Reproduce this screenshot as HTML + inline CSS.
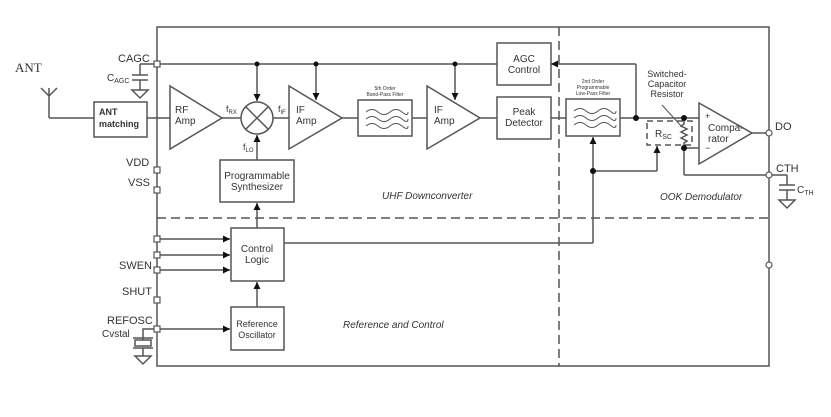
<!DOCTYPE html>
<html><head><meta charset="utf-8"><style>
html,body{margin:0;padding:0;background:#fff;width:831px;height:417px;overflow:hidden}
svg{display:block}
text{font-family:"Liberation Sans",sans-serif;fill:#333}
</style></head><body>
<svg width="831" height="417" viewBox="0 0 831 417" xmlns="http://www.w3.org/2000/svg">
<defs>
<marker id="a" viewBox="0 0 10 10" refX="10" refY="5" markerWidth="7" markerHeight="7" orient="auto" markerUnits="userSpaceOnUse"><path d="M0,0L10,5L0,10z" fill="#111"/></marker>
</defs>
<g stroke="#555" stroke-width="1.5" fill="none">
<rect x="157" y="27" width="612" height="339"/>
<line x1="157" y1="218" x2="769" y2="218" stroke-dasharray="9,5"/>
<line x1="559" y1="27" x2="559" y2="366" stroke-dasharray="9,5"/>
<line x1="157" y1="64" x2="497" y2="64"/>
<line x1="257" y1="64" x2="257" y2="101" marker-end="url(#a)"/>
<line x1="316" y1="64" x2="316" y2="100" marker-end="url(#a)"/>
<line x1="455" y1="64" x2="455" y2="100" marker-end="url(#a)"/>
<line x1="157" y1="64" x2="140" y2="64"/><line x1="140" y1="64" x2="140" y2="75"/>
<line x1="132" y1="75" x2="148" y2="75"/><line x1="132" y1="80" x2="148" y2="80"/>
<line x1="140" y1="80" x2="140" y2="90"/><path d="M132,90H148L140,98Z"/>
<line x1="49" y1="94" x2="49" y2="118"/><path d="M41,88L49,96L57,88M49,88V96"/>
<line x1="49" y1="118" x2="94" y2="118"/>
<rect x="94" y="102" width="53" height="35"/>
<line x1="147" y1="118" x2="170" y2="118"/>
<path d="M170,86L222,118L170,149Z"/>
<line x1="222" y1="118" x2="241" y2="118"/>
<circle cx="257" cy="118" r="16"/>
<path d="M246,107L268,129M268,107L246,129"/>
<line x1="273" y1="118" x2="289" y2="118"/>
<path d="M289,86L342,118L289,149Z"/>
<line x1="342" y1="118" x2="358" y2="118"/>
<rect x="358" y="100" width="54" height="36"/>
<line x1="412" y1="118" x2="427" y2="118"/>
<path d="M427,86L480,118L427,149Z"/>
<line x1="480" y1="118" x2="497" y2="118"/>
<rect x="497" y="97" width="54" height="42"/>
<rect x="497" y="43" width="54" height="42"/>
<line x1="551" y1="118" x2="566" y2="118"/>
<rect x="566" y="99" width="54" height="37"/>
<path d="M366,112q6,-5 12,0t12,0t12,0t6,0M366,119q6,-5 12,0t12,0t12,0t6,0M366,126q6,-5 12,0t12,0t12,0t6,0" stroke-width="1"/>
<path d="M574,111q6,-5 12,0t12,0t12,0t6,0M574,118q6,-5 12,0t12,0t12,0t6,0M574,125q6,-5 12,0t12,0t12,0t6,0" stroke-width="1"/>
<line x1="620" y1="118" x2="699" y2="118"/>
<line x1="636" y1="118" x2="636" y2="64"/>
<line x1="636" y1="64" x2="551" y2="64" marker-end="url(#a)"/>
<rect x="647" y="121" width="45" height="24" stroke-dasharray="6,4"/>
<path d="M684,118V124l-3,2 6,3-6,3 6,3-6,3 6,3-3,2V148"/>
<line x1="662" y1="105" x2="682" y2="127" stroke-width="1"/>
<line x1="684" y1="148" x2="699" y2="148"/>
<path d="M699,103L752,133L699,164Z"/>
<line x1="752" y1="133" x2="769" y2="133"/>
<line x1="684" y1="148" x2="684" y2="175"/><line x1="684" y1="175" x2="769" y2="175"/>
<line x1="769" y1="175" x2="787" y2="175"/><line x1="787" y1="175" x2="787" y2="185"/>
<line x1="779" y1="185" x2="795" y2="185"/><line x1="779" y1="190" x2="795" y2="190"/>
<line x1="787" y1="190" x2="787" y2="200"/><path d="M779,200H795L787,208Z"/>
<line x1="284" y1="243" x2="593" y2="243"/>
<line x1="593" y1="243" x2="593" y2="137" marker-end="url(#a)"/>
<line x1="593" y1="171" x2="657" y2="171"/>
<line x1="657" y1="171" x2="657" y2="146" marker-end="url(#a)"/>
<rect x="220" y="160" width="74" height="42"/>
<line x1="257" y1="160" x2="257" y2="135" marker-end="url(#a)"/>
<rect x="231" y="228" width="53" height="53"/>
<line x1="257" y1="228" x2="257" y2="203" marker-end="url(#a)"/>
<line x1="157" y1="239" x2="230" y2="239" marker-end="url(#a)"/>
<line x1="157" y1="255" x2="230" y2="255" marker-end="url(#a)"/>
<line x1="157" y1="270" x2="230" y2="270" marker-end="url(#a)"/>
<rect x="231" y="307" width="53" height="43"/>
<line x1="257" y1="307" x2="257" y2="282" marker-end="url(#a)"/>
<line x1="157" y1="329" x2="230" y2="329" marker-end="url(#a)"/>
<path d="M157,329H143V340"/><rect x="135" y="340" width="16" height="6"/>
<line x1="133" y1="338" x2="153" y2="338"/><line x1="133" y1="348" x2="153" y2="348"/>
<line x1="143" y1="348" x2="143" y2="356"/><path d="M135,356H151L143,364Z"/>
</g>
<g fill="#111">
<circle cx="257" cy="64" r="2.5"/><circle cx="316" cy="64" r="2.5"/><circle cx="455" cy="64" r="2.5"/>
<circle cx="636" cy="118" r="3"/><circle cx="684" cy="118" r="3"/><circle cx="684" cy="148" r="3"/>
<circle cx="593" cy="171" r="3"/>
</g>
<g fill="#fff" stroke="#555" stroke-width="1.2">
<rect x="154" y="61" width="6" height="6"/><rect x="154" y="167" width="6" height="6"/><rect x="154" y="187" width="6" height="6"/>
<rect x="154" y="236" width="6" height="6"/><rect x="154" y="252" width="6" height="6"/><rect x="154" y="267" width="6" height="6"/>
<rect x="154" y="297" width="6" height="6"/><rect x="154" y="326" width="6" height="6"/>
<circle cx="769" cy="133" r="3"/><circle cx="769" cy="175" r="3"/><circle cx="769" cy="265" r="3"/>
</g>
<text x="15" y="72" font-size="13" style="font-family:'Liberation Serif',serif">ANT</text>
<text x="118" y="62" font-size="11">CAGC</text>
<text x="107" y="81" font-size="10">C<tspan font-size="7" dy="2">AGC</tspan></text>
<text x="99" y="115" font-size="9" font-weight="bold">ANT</text>
<text x="99" y="127" font-size="9" font-weight="bold">matching</text>
<text x="175" y="113" font-size="10">RF</text><text x="175" y="124" font-size="10">Amp</text>
<text x="226" y="112" font-size="9">f<tspan font-size="6" dy="2">RX</tspan></text>
<text x="278" y="112" font-size="9">f<tspan font-size="6" dy="2">IF</tspan></text>
<text x="243" y="150" font-size="9">f<tspan font-size="6" dy="2">LO</tspan></text>
<text x="296" y="113" font-size="10">IF</text><text x="296" y="124" font-size="10">Amp</text>
<text x="385" y="90" font-size="5" text-anchor="middle">5th Order</text>
<text x="385" y="96" font-size="5" text-anchor="middle">Band-Pass Filter</text>
<text x="434" y="113" font-size="10">IF</text><text x="434" y="124" font-size="10">Amp</text>
<text x="524" y="115" font-size="10" text-anchor="middle">Peak</text><text x="524" y="126" font-size="10" text-anchor="middle">Detector</text>
<text x="524" y="62" font-size="10" text-anchor="middle">AGC</text><text x="524" y="73" font-size="10" text-anchor="middle">Control</text>
<text x="593" y="83" font-size="5" text-anchor="middle">2nd Order</text>
<text x="593" y="89" font-size="5" text-anchor="middle">Programmable</text>
<text x="593" y="95" font-size="5" text-anchor="middle">Low-Pass Filter</text>
<text x="667" y="77" font-size="9" text-anchor="middle">Switched-</text>
<text x="667" y="87" font-size="9" text-anchor="middle">Capacitor</text>
<text x="667" y="97" font-size="9" text-anchor="middle">Resistor</text>
<text x="655" y="137" font-size="10">R<tspan font-size="7" dy="2">SC</tspan></text>
<text x="705" y="119" font-size="9">+</text><text x="705" y="151" font-size="9">−</text>
<text x="708" y="131" font-size="10">Compa-</text><text x="708" y="142" font-size="10">rator</text>
<text x="775" y="130" font-size="11">DO</text>
<text x="776" y="172" font-size="11">CTH</text>
<text x="797" y="193" font-size="10">C<tspan font-size="7" dy="2">TH</tspan></text>
<text x="257" y="179" font-size="10" text-anchor="middle">Programmable</text>
<text x="257" y="190" font-size="10" text-anchor="middle">Synthesizer</text>
<text x="382" y="199" font-size="10" font-style="italic">UHF Downconverter</text>
<text x="660" y="200" font-size="10" font-style="italic">OOK Demodulator</text>
<text x="126" y="166" font-size="11">VDD</text>
<text x="128" y="186" font-size="11">VSS</text>
<text x="257" y="252" font-size="10" text-anchor="middle">Control</text>
<text x="257" y="263" font-size="10" text-anchor="middle">Logic</text>
<text x="119" y="269" font-size="11">SWEN</text>
<text x="122" y="295" font-size="11">SHUT</text>
<text x="107" y="324" font-size="11">REFOSC</text>
<text x="102" y="337" font-size="10">Cvstal</text>
<text x="257" y="327" font-size="9" text-anchor="middle">Reference</text>
<text x="257" y="338" font-size="9" text-anchor="middle">Oscillator</text>
<text x="343" y="328" font-size="10" font-style="italic">Reference and Control</text>
</svg>
</body></html>
